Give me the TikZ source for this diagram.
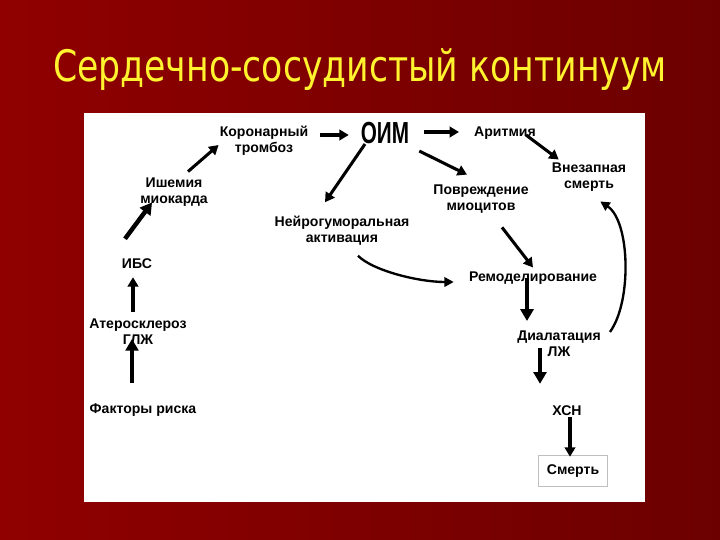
\documentclass[tikz,border=0pt]{standalone}
\usepackage{fontspec}
\setmainfont{Liberation Sans}
\newfontfamily\ttlfont{DejaVu Sans}
\usetikzlibrary{arrows.meta,calc}
\definecolor{bgleft}{HTML}{900000}
\definecolor{bgright}{HTML}{6C0000}
\definecolor{ttlyellow}{HTML}{FFF22E}

\begin{document}
\begin{tikzpicture}[x=0.03cm,y=-0.03cm,
	lbl/.style={font=\bfseries\fontsize{12}{13.5}\selectfont, align=center, inner sep=0pt},
	fatarrow/.style={line width=3.8pt, -{Triangle[length=10pt,width=11pt]}},
	midarrow/.style={line width=2.6pt, -{Triangle[length=8pt,width=9pt]}},
	curvearrow/.style={line width=2pt, -{Triangle[length=8pt,width=8pt]}}]
	%%%%% background %%%%%
	\shade[left color=bgleft, right color=bgright] (0,0) rectangle (720,540);
	\fill[white] (84,113) rectangle (645,502);
	
	\node[font=\ttlfont\fontsize{37}{37}\selectfont, text=ttlyellow, xscale=0.8, inner sep=0pt] (title) at (360,70) {Сердечно-сосудистый континуум};
	
	%%%%% nodes %%%%%
	\node[lbl] (koron) at (264,141) {Коронарный\\тромбоз};
	\node[lbl, font=\bfseries\fontsize{26}{26}\selectfont, xscale=0.68] (oim) at (385,133) {ОИМ};
	\node[lbl] (arit) at (505,133) {Аритмия};
	\node[lbl] (vnez) at (589,177) {Внезапная\\смерть};
	\node[lbl] (povr) at (481,199) {Повреждение\\миоцитов};
	\node[lbl] (neiro) at (342,231) {Нейрогуморальная\\активация};
	\node[lbl] (ishem) at (174,192) {Ишемия\\миокарда};
	\node[lbl] (ibs) at (137,264) {ИБС};
	\node[lbl] (ater) at (138,332) {Атеросклероз\\ГЛЖ};
	\node[lbl] (fakt) at (143,410) {Факторы риска};
	\node[lbl] (remod) at (533,278) {Ремоделирование};
	\node[lbl] (dilat) at (559,344) {Диалатация\\ЛЖ};
	\node[lbl] (xsn) at (567,411) {ХСН};
	\node[lbl, draw=black!25, line width=0.8pt, minimum width=59pt, minimum height=27pt] (death) at (573,471) {Смерть};
	
	%%%%% arrows %%%%%
	\draw[fatarrow] ($(fakt.north)+(-11,-20)$) -- ($(ater.south)+(-6,-6)$);
	\draw[midarrow] ($(ater.north)+(-5,-7)$) -- ($(ibs.south)+(-4,8)$);
	\draw[fatarrow] ($(ibs.north)+(-12,-20)$) -- ($(ishem.south west)+(12,-4)$);
	\draw[midarrow] ($(ishem.north)+(14,-6)$) -- ($(koron.west)+(-1,4)$);
	\draw[midarrow] ($(koron.east)+(12,-6)$) -- ($(oim.west)+(-12,2)$);
	\draw[midarrow] ($(oim.south)+(-20,0)$) -- ($(neiro.north)+(-17,-14)$);
	\draw[midarrow] ($(oim.east)+(15,-1)$) -- ($(arit.west)+(-15,-1)$);
	\draw[midarrow] ($(oim.south east)+(10,7)$) -- ($(povr.north)+(-14,-10)$);
	\draw[midarrow] ($(arit.east)+(-10,2)$) -- ($(vnez.north west)+(7,-3)$);
	\draw[midarrow] ($(povr.south)+(21,14)$) -- ($(remod.north)+(0,-4)$);
	\draw[curvearrow] ($(neiro.south)+(16,10)$) .. controls +(15,15) and +(-35,0) .. ($(remod.west)+(-15,4)$);
	\draw[fatarrow] ($(remod.south)+(-6,-7)$) -- ($(dilat.north)+(-32,-10)$);
	\draw[fatarrow] ($(dilat.south)+(-19,-9)$) -- ($(xsn.north)+(-27,-22)$);
	\draw[midarrow] ($(xsn.south)+(3,1)$) -- ($(death.north)+(-3,2)$);
	\draw[curvearrow] ($(dilat.north east)+(9,1)$) .. controls +(22,-30) and +(30,20) .. ($(vnez.south east)+(-26,10)$);
\end{tikzpicture}
\end{document}
